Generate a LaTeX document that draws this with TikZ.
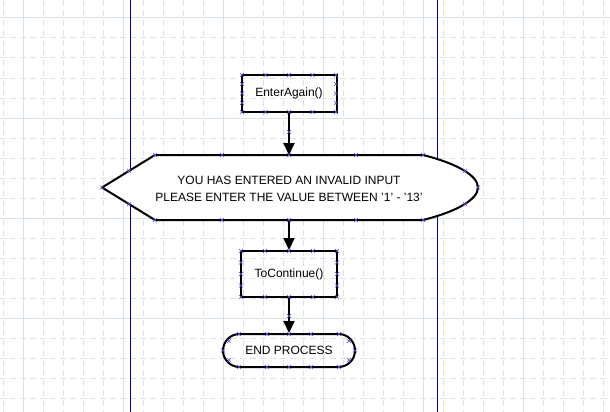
\documentclass[tikz,border=0pt]{standalone}
\usepackage{fontspec}
\setmainfont{Liberation Sans}
\usetikzlibrary{arrows.meta,shapes.misc}
\definecolor{gridmaj}{HTML}{D6E2E0}
\definecolor{gridmin}{HTML}{DCE2E2}
\definecolor{laneblue}{HTML}{00009C}
\definecolor{markblue}{HTML}{5050E0}
\tikzset{
  px/.style={x=1pt,y=-1pt},
  boxnode/.style={draw=black,line width=2pt,rectangle,minimum width=95pt,minimum height=37pt,inner sep=0pt,font=\fontsize{12}{14}\selectfont},
  termnode/.style={draw=black,line width=2pt,rounded rectangle,minimum width=132pt,minimum height=33pt,inner sep=0pt,font=\fontsize{12}{14}\selectfont},
  textnode/.style={align=center,inner sep=0pt,font=\fontsize{12}{17}\selectfont},
  conn/.style={line width=2pt,black,-{Triangle[length=12pt,width=11pt]}},
  shapeline/.style={line width=2pt,black,line join=round},
  xmark/.style={markblue,line width=0.6pt},
}
\newcommand{\xm}[2]{\draw[xmark] (#1-2,#2-2) -- (#1+2,#2+2) (#1-2,#2+2) -- (#1+2,#2-2);}
\begin{document}
\begin{tikzpicture}[px]
\useasboundingbox (0,0) rectangle (610,412);
\fill[white] (0,0) rectangle (610,412);
% minor grid
\foreach \x in {3,43,63,83,103,143,163,183,203,243,263,283,303,343,363,383,403,443,463,483,503,543,563,583,603}
  \draw[gridmin,line width=1pt,dash pattern=on 6pt off 4pt] (\x,0) -- (\x,412);
\foreach \y in {38,58,78,98,138,158,178,198,238,258,278,298,338,358,378,398}
  \draw[gridmin,line width=1pt,dash pattern=on 6pt off 4pt] (0,\y) -- (610,\y);
% major grid
\foreach \x in {23,123,223,323,423,523}
  \draw[gridmaj,line width=1pt] (\x,0) -- (\x,412);
\foreach \y in {18,118,218,318}
  \draw[gridmaj,line width=1pt] (0,\y) -- (610,\y);
% lane lines
\draw[laneblue,line width=1pt] (130.5,0) -- (130.5,412);
\draw[laneblue,line width=1pt] (437.5,0) -- (437.5,412);

% nodes
\node[boxnode] (enter) at (289,93.5) {EnterAgain()};
\draw[shapeline,fill=white] (155,155) -- (423,155) .. controls (455,163) and (478,175) .. (478,187.5)
  .. controls (478,200) and (455,212) .. (423,220) -- (155,220) -- (102,187.5) -- cycle;
\coordinate (dtop) at (289,155);
\coordinate (dbot) at (289,220);
\node[textnode] (disp) at (289,188.5) {YOU HAS ENTERED AN INVALID INPUT\\PLEASE ENTER THE VALUE BETWEEN '1' - '13'};
\node[boxnode,minimum height=46pt,minimum width=96pt] (cont) at (289,274) {ToContinue()};
\node[termnode] (endp) at (289,350.5) {END PROCESS};

% connectors
\draw[conn] (enter.south) -- (dtop);
\draw[conn] (dbot) -- (cont.north);
\draw[conn] (cont.south) -- (endp.north);

% markers
\foreach \x in {242,265.5,289,312.5,336} {\xm{\x}{75}\xm{\x}{112}}
\foreach \y in {84,93.5,103} {\xm{242}{\y}\xm{336}{\y}}
\foreach \x in {241,265,289,313,337} {\xm{\x}{251}\xm{\x}{297}}
\foreach \y in {262.5,274,285.5} {\xm{241}{\y}\xm{337}{\y}}
\foreach \x in {155,222,289,356,423} {\xm{\x}{155}\xm{\x}{220}}
\xm{102}{187.5}\xm{129}{171}\xm{129}{204}\xm{478}{187.5}\xm{465}{171}\xm{465}{204}
\foreach \x in {239,267,289,311,339} {\xm{\x}{334}\xm{\x}{367}}
\xm{223}{350.5}\xm{355}{350.5}\xm{229}{341}\xm{229}{360}\xm{349}{341}\xm{349}{360}
\xm{289}{132}\xm{289}{316}
\end{tikzpicture}
\end{document}
